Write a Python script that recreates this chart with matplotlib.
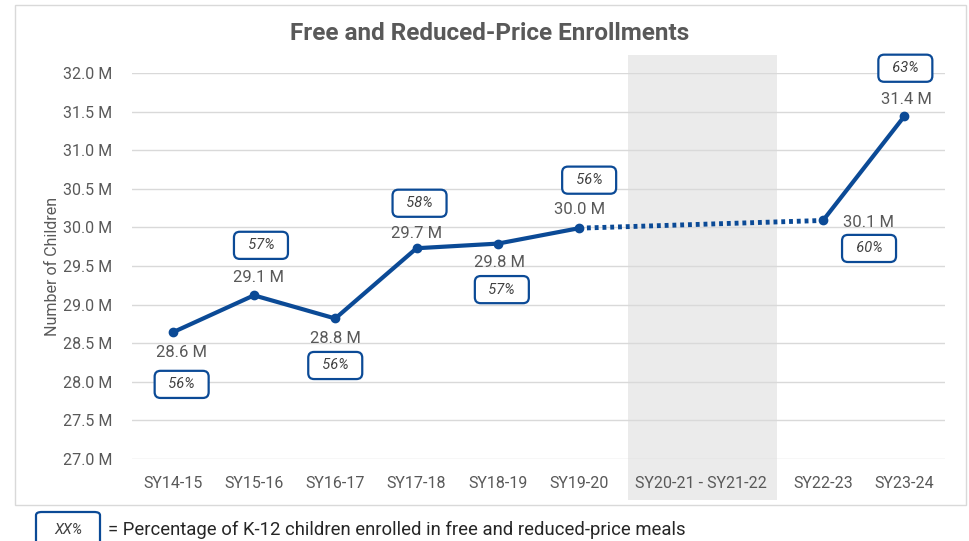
import matplotlib.pyplot as plt
from matplotlib.patches import Rectangle, FancyBboxPatch
from matplotlib.ticker import FuncFormatter

plt.rcParams['font.family'] = ['Roboto', 'DejaVu Sans']

# --- DATA ---
categories = ["SY14-15", "SY15-16", "SY16-17", "SY17-18", "SY18-19", "SY19-20",
              "SY20-21", "SY21-22", "SY22-23", "SY23-24"]
enroll = [28.64, 29.12, 28.82, 29.73, 29.79, 29.99, None, None, 30.09, 31.44]
value_labels = ["28.6 M", "29.1 M", "28.8 M", "29.7 M", "29.8 M", "30.0 M",
                None, None, "30.1 M", "31.4 M"]
pct_labels = ["56%", "57%", "56%", "58%", "57%", "56%", None, None, "60%", "63%"]
gap_label = "SY20-21 - SY21-22"
# ----------------

BLUE = "#0b4a96"
GRAY = "#595959"

# label offsets in pixels (dx, dy) for value label and pct box
value_off = [(9, -20), (5, 18), (0, -20), (0, 15), (2, -19), (0, 19),
             None, None, (45, -2), (2, 17)]
box_off = [(9, -52), (7, 50), (0, -47), (3, 45), (4, -46), (10, 48),
           None, None, (46, -28), (1, 48)]

fig = plt.figure(figsize=(9.7, 5.41), dpi=100)
W, H = 970, 541
ax = fig.add_axes([132 / W, 1 - 459 / H, (945 - 132) / W, (459 - 73) / H])

# outer chart border
fig.patches.append(Rectangle((15 / W, 1 - 505 / H), 951 / W, 500 / H,
                             transform=fig.transFigure, fill=False,
                             ec="#d9d9d9", lw=1, zorder=0))

x = list(range(len(categories)))

# shaded gap region (no data)
trans = ax.get_xaxis_transform()
ax.add_patch(Rectangle((5.6, -0.105), 1.83, 1.152, transform=trans,
                       color="#ebebeb", clip_on=False, zorder=0, lw=0))

# solid segments
segs = [[0, 1, 2, 3, 4, 5], [8, 9]]
for s in segs:
    ax.plot(s, [enroll[i] for i in s], color=BLUE, lw=3, marker='o',
            ms=6, zorder=3, solid_capstyle='round')
ax.plot([5, 8], [enroll[5], enroll[8]], color=BLUE, lw=3.5,
        linestyle=(0, (0.8, 0.8)), zorder=3)

box_style = dict(boxstyle="round,pad=0.45,rounding_size=0.4",
                 fc='white', ec=BLUE, lw=1.6)

for i in x:
    if enroll[i] is None:
        continue
    dx, dy = value_off[i]
    ax.annotate(value_labels[i], (i, enroll[i]), xytext=(dx * 0.72, dy * 0.72),
                textcoords='offset points', ha='center', va='center',
                fontsize=12, color=GRAY, zorder=5)
    bx, by = box_off[i]
    ax.annotate("  " + pct_labels[i] + "  ", (i, enroll[i]),
                xytext=(bx * 0.72, by * 0.72),
                textcoords='offset points', ha='center', va='center',
                fontsize=10.5, style='italic', color="#404040", zorder=5,
                bbox=box_style)

ax.set_ylim(27.0, 32.0)
ax.set_yticks([27.0 + 0.5 * k for k in range(11)])
ax.yaxis.set_major_formatter(FuncFormatter(lambda v, p: f"{v:.1f} M"))
ax.set_xlim(-0.5, 9.5)
tick_pos = [0, 1, 2, 3, 4, 5, 6.5, 8, 9]
tick_lab = categories[:6] + [gap_label] + categories[8:]
ax.set_xticks(tick_pos)
ax.set_xticklabels(tick_lab)
ax.tick_params(axis='both', length=0, labelsize=11.5, labelcolor=GRAY)
ax.tick_params(axis='x', pad=12)
ax.tick_params(axis='y', pad=14)
ax.grid(axis='y', color="#d9d9d9", lw=1)
ax.set_axisbelow(True)
for sp in ax.spines.values():
    sp.set_visible(False)
ax.set_ylabel("Number of Children", fontsize=11.5, color=GRAY, labelpad=2)
ax.patch.set_alpha(0)

fig.text(490 / W, 1 - 34 / H, "Free and Reduced-Price Enrollments",
         ha='center', va='center', fontsize=17.5, fontweight='bold', color=GRAY)

# legend explaining the boxes
fig.patches.append(FancyBboxPatch((36 / W, 1 - 545 / H), 64 / W, 33 / H,
                                  boxstyle="round,pad=0,rounding_size=0.006",
                                  transform=fig.transFigure, fc='white',
                                  ec=BLUE, lw=1.6))
fig.text(68 / W, 1 - 530 / H, "XX%", ha='center', va='center', fontsize=10.5,
         style='italic', color="#404040")
fig.text(108 / W, 1 - 530 / H,
         "= Percentage of K-12 children enrolled in free and reduced-price meals",
         ha='left', va='center', fontsize=13.3, color="#262626")

fig.savefig("out.png", dpi=100)
